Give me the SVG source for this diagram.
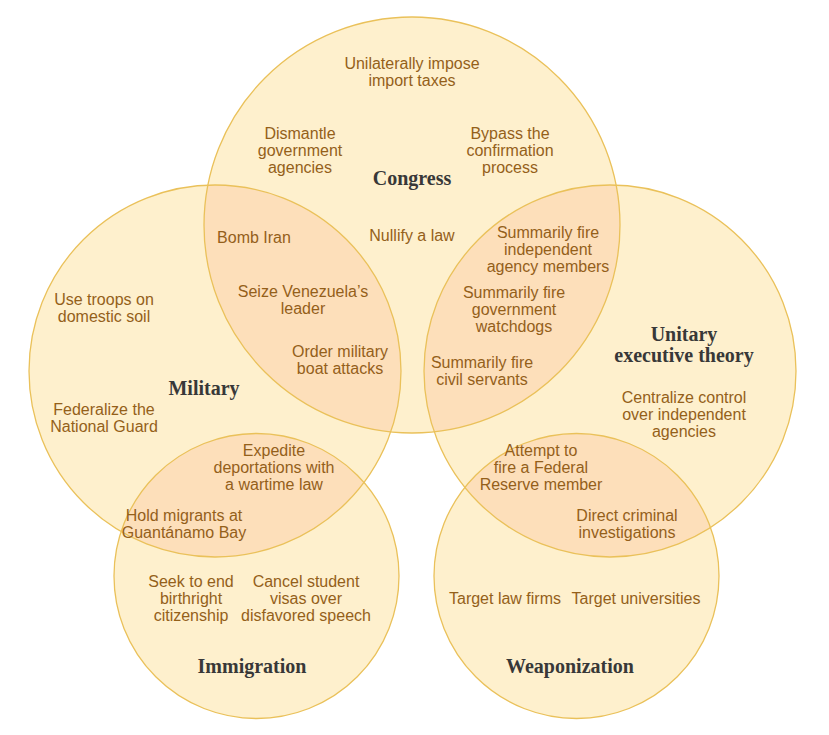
<svg xmlns="http://www.w3.org/2000/svg" width="829" height="735" viewBox="0 0 829 735">
<defs>
<style>
.base{fill:#fef0cd;stroke:none}
.lens{fill:#fddfba;stroke:none}
.ring{fill:none;stroke:#eac15a;stroke-width:1.3}
.t{font-family:"Liberation Sans",Arial,sans-serif;font-size:16px;fill:#94601a;text-anchor:middle}
.h{font-family:"Liberation Serif","Times New Roman",serif;font-weight:bold;font-size:20px;fill:#383838;text-anchor:middle}
</style>
<clipPath id="cCon"><circle cx="412" cy="225" r="208"/></clipPath>
<clipPath id="cMil"><circle cx="215" cy="371" r="186"/></clipPath>
<clipPath id="cUni"><circle cx="610" cy="371" r="186"/></clipPath>
</defs>
<rect width="829" height="735" fill="#ffffff"/>
<g id="fills">
<circle class="base" cx="412" cy="225" r="208"/>
<circle class="base" cx="215" cy="371" r="186"/>
<circle class="base" cx="610" cy="371" r="186"/>
<circle class="base" cx="256.5" cy="576" r="142.5"/>
<circle class="base" cx="576.5" cy="576" r="142.5"/>
<circle class="lens" cx="215" cy="371" r="186" clip-path="url(#cCon)"/>
<circle class="lens" cx="610" cy="371" r="186" clip-path="url(#cCon)"/>
<circle class="lens" cx="256.5" cy="576" r="142.5" clip-path="url(#cMil)"/>
<circle class="lens" cx="576.5" cy="576" r="142.5" clip-path="url(#cUni)"/>
</g>
<g id="congress">
<circle class="ring" cx="412" cy="225" r="208"/>
<text class="t" x="412" y="69">Unilaterally impose</text>
<text class="t" x="412" y="86">import taxes</text>
<text class="t" x="300" y="139">Dismantle</text>
<text class="t" x="300" y="156">government</text>
<text class="t" x="300" y="173">agencies</text>
<text class="t" x="510" y="139">Bypass the</text>
<text class="t" x="510" y="156">confirmation</text>
<text class="t" x="510" y="173">process</text>
<text class="h" x="412" y="185">Congress</text>
<text class="t" x="412" y="241">Nullify a law</text>
</g>
<g id="military">
<circle class="ring" cx="215" cy="371" r="186"/>
<text class="t" x="104" y="305">Use troops on</text>
<text class="t" x="104" y="322">domestic soil</text>
<text class="h" x="204" y="395">Military</text>
<text class="t" x="104" y="415">Federalize the</text>
<text class="t" x="104" y="432">National Guard</text>
</g>
<g id="congress-military">
<text class="t" x="254" y="243">Bomb Iran</text>
<text class="t" x="303" y="297">Seize Venezuela’s</text>
<text class="t" x="303" y="314">leader</text>
<text class="t" x="340" y="357">Order military</text>
<text class="t" x="340" y="374">boat attacks</text>
</g>
<g id="unitary">
<circle class="ring" cx="610" cy="371" r="186"/>
<text class="h" x="684" y="341">Unitary</text>
<text class="h" x="684" y="362">executive theory</text>
<text class="t" x="684" y="403">Centralize control</text>
<text class="t" x="684" y="420">over independent</text>
<text class="t" x="684" y="437">agencies</text>
</g>
<g id="congress-unitary">
<text class="t" x="548" y="238">Summarily fire</text>
<text class="t" x="548" y="255">independent</text>
<text class="t" x="548" y="272">agency members</text>
<text class="t" x="514" y="298">Summarily fire</text>
<text class="t" x="514" y="315">government</text>
<text class="t" x="514" y="332">watchdogs</text>
<text class="t" x="482" y="368">Summarily fire</text>
<text class="t" x="482" y="385">civil servants</text>
</g>
<g id="immigration">
<circle class="ring" cx="256.5" cy="576" r="142.5"/>
<text class="t" x="191" y="587">Seek to end</text>
<text class="t" x="191" y="604">birthright</text>
<text class="t" x="191" y="621">citizenship</text>
<text class="t" x="306" y="587">Cancel student</text>
<text class="t" x="306" y="604">visas over</text>
<text class="t" x="306" y="621">disfavored speech</text>
<text class="h" x="252" y="673">Immigration</text>
</g>
<g id="military-immigration">
<text class="t" x="274" y="456">Expedite</text>
<text class="t" x="274" y="473">deportations with</text>
<text class="t" x="274" y="490">a wartime law</text>
<text class="t" x="184" y="521">Hold migrants at</text>
<text class="t" x="184" y="538">Guantánamo Bay</text>
</g>
<g id="weaponization">
<circle class="ring" cx="576.5" cy="576" r="142.5"/>
<text class="t" x="505" y="604">Target law firms</text>
<text class="t" x="636" y="604">Target universities</text>
<text class="h" x="570" y="673">Weaponization</text>
</g>
<g id="unitary-weaponization">
<text class="t" x="541" y="456">Attempt to</text>
<text class="t" x="541" y="473">fire a Federal</text>
<text class="t" x="541" y="490">Reserve member</text>
<text class="t" x="627" y="521">Direct criminal</text>
<text class="t" x="627" y="538">investigations</text>
</g>
<g id="connectors"></g>
</svg>
